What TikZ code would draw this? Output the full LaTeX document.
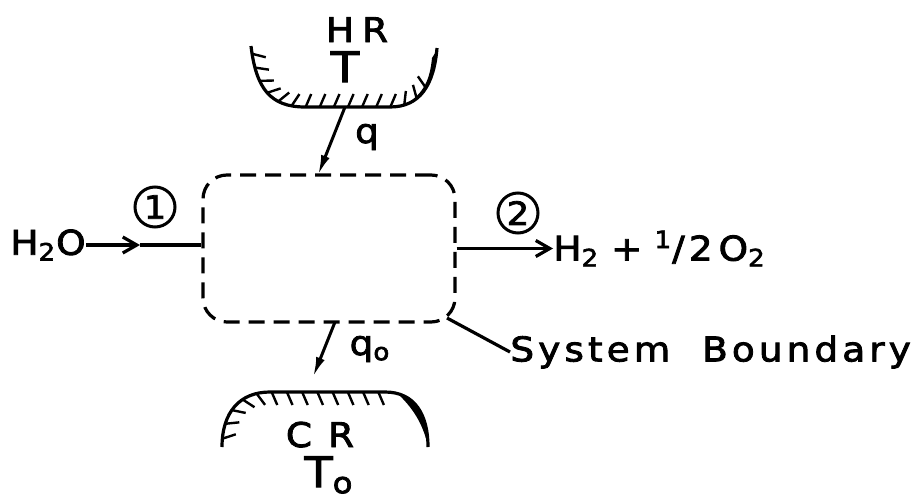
\documentclass[tikz,border=0pt]{standalone}
\usepackage{fontspec}
\newfontfamily\lettering[FakeStretch=1.1,LetterSpace=12,FakeBold=2.5]{DejaVu Sans}
\usetikzlibrary{arrows.meta,decorations.markings}

\tikzset{
  boundary/.style={draw, dash pattern=on 8pt off 4.5pt, line width=1.6pt, rounded corners=12pt,
    minimum width=126pt, minimum height=73.5pt, inner sep=0pt},
  rim/.style={line width=1.6pt},
  hotrim/.style={postaction={decorate}, decoration={markings,
    mark=between positions 0.03 and 0.87 step 0.054 with {\draw[line width=1.2pt] (0,0) -- (2.8pt,6.5pt);}}},
  coldrim/.style={postaction={decorate}, decoration={markings,
    mark=between positions 0.03 and 0.72 step 0.055 with {\draw[line width=1.2pt] (0,0) -- (2.8pt,-6.5pt);}}},
  lbl/.style={font=\lettering\fontsize{17}{19}\selectfont, inner sep=0pt},
  huge/.style={font=\lettering\fontsize{21}{23}\selectfont, inner sep=0pt},
  num/.style={draw, circle, line width=1.5pt, minimum size=20pt, inner sep=0pt,
    font=\lettering\fontsize{16}{16}\selectfont},
  heat/.style={line width=1.5pt, -{Latex[length=10pt,width=4.5pt]}},
  flow/.style={line width=1.6pt},
  flowhead/.style={line width=1.6pt, -{Straight Barb[length=7pt,width=8pt,line width=1.6pt]}},
}

\begin{document}
\begin{tikzpicture}[x=0.5pt,y=-0.5pt]
\useasboundingbox (0,0) rectangle (921,498);

% system
\node[boundary] (sys) at (329,248.5) {};

% hot reservoir
\draw[rim, hotrim] (251,46) .. controls (256,88) and (270,107) .. (305,107) -- (390,107)
  .. controls (420,107) and (434,85) .. (437,48);
\fill (437,50) .. controls (435,82) and (424,99) .. (405,105) .. controls (425,93) and (430,78) .. (432,58) -- cycle;
\node[lbl, anchor=base] (hr) at (357,42) {H\kern4pt R};
\node[huge, anchor=base] (t) at (345,82) {T};
\coordinate (hrb) at (345,107);
\coordinate (qin) at (318,175);
\draw[heat] (hrb) -- (qin);
\node[lbl] (q) at (367,137) {q};

% cold reservoir
\draw[rim, coldrim] (222,447) .. controls (222,412) and (240,392) .. (270,392) -- (385,392)
  .. controls (415,392) and (428,415) .. (428,447);
\fill (398,394) .. controls (418,400) and (428,420) .. (428,447) .. controls (424,427) and (415,410) .. (398,394) -- cycle;
\node[lbl, anchor=base] (cr) at (320,447) {C\kern8pt R};
\node[huge, anchor=base] (to) at (329,487) {T\textsubscript{o}};
\coordinate (qout) at (335,322);
\coordinate (crt) at (313,377);
\draw[heat] (qout) -- (crt);
\node[lbl] (qo) at (370,349) {q\textsubscript{o}};

% inlet
\node[lbl] (h2o) at (48,245) {H\textsubscript{2}O};
\coordinate (inhead) at (140,245);
\draw[flowhead] (h2o.east) -- (inhead);
\draw[flow] (inhead) -- (sys.west |- inhead);
\node[num] (n1) at (155,207) {1};

% outlet
\node[lbl, anchor=west] (prod) at (553,248.5) {H\textsubscript{2}\kern6pt+\kern6pt\textsuperscript{1}/2\kern3pt O\textsubscript{2}};
\draw[flowhead] (sys.east) -- (prod.west);
\node[num] (n2) at (518,213) {2};

% boundary label
\coordinate (corner) at (447,318);
\node[lbl, anchor=west] (sb) at (510,352) {System\ \ Boundary};
\draw[flow] (corner) -- (sb.west);
\end{tikzpicture}
\end{document}
